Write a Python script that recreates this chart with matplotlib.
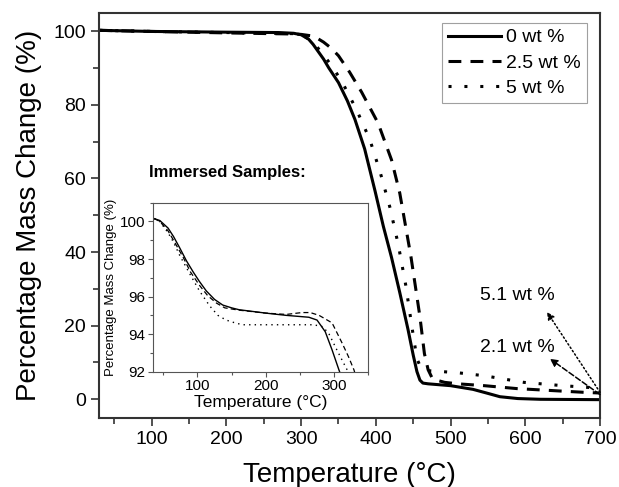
import matplotlib
matplotlib.use("Agg")
import matplotlib.pyplot as plt
from matplotlib.ticker import MultipleLocator

plt.rcParams['font.family'] = ['Liberation Sans', 'DejaVu Sans']

# main TGA curves
t_0 = [30, 100, 200, 270, 290, 300, 310, 316, 323, 330, 337, 350, 362, 372, 385, 399, 410, 421, 432, 443, 450,
       455, 459, 463, 470, 500, 530, 550, 566, 590, 620, 700]
m_0 = [100.2, 99.9, 99.7, 99.6, 99.4, 99.0, 97.8, 96.4, 94.4, 92.4, 90.0, 86.0, 81.0, 76.0, 68.0, 56.5, 47.0,
       38.5, 29.0, 19.0, 12.0, 7.5, 5.2, 4.4, 4.2, 3.7, 2.7, 1.6, 0.7, 0.2, 0.0, -0.1]

t_25 = [30, 100, 200, 290, 300, 314, 322, 330, 340, 350, 365, 381, 403, 421, 432, 447, 459, 465, 470, 476, 492,
        510, 545, 589, 642, 678, 700]
m_25 = [100.2, 99.9, 99.5, 99.2, 99.1, 98.7, 98.0, 97.0, 95.4, 93.3, 88.8, 83.4, 75.0, 65.0, 56.0, 38.7, 22.4,
        12.4, 8.0, 5.5, 4.6, 4.2, 3.7, 2.9, 2.3, 1.9, 1.7]

t_5 = [30, 100, 200, 290, 300, 310, 320, 330, 340, 354, 374, 392, 406, 419, 430, 440, 448, 455, 461, 467, 490,
       510, 545, 598, 650, 700]
m_5 = [100.2, 99.9, 99.6, 99.3, 99.0, 97.9, 96.0, 93.5, 90.8, 86.5, 78.7, 70.5, 61.5, 52.0, 42.0, 31.0, 20.0,
       11.0, 8.2, 7.8, 7.5, 7.2, 6.4, 4.6, 3.7, 3.0]

# inset: immersed samples
ti_0 = [37, 45, 57, 65, 74, 84, 94, 103, 113, 125, 137, 150, 161, 200, 230, 263, 275, 287, 297, 307, 312]
mi_0 = [100.15, 100.05, 99.65, 99.2, 98.6, 97.9, 97.3, 96.8, 96.3, 95.85, 95.55, 95.4, 95.3, 95.12, 95.0,
        94.9, 94.75, 94.13, 93.16, 92.1, 91.6]
ti_25 = [37, 45, 57, 65, 79, 90, 103, 115, 128, 140, 160, 200, 230, 253, 265, 278, 297, 312, 321, 329, 333]
mi_25 = [100.15, 100.0, 99.5, 99.0, 98.1, 97.3, 96.6, 96.05, 95.65, 95.4, 95.28, 95.12, 95.05, 95.15, 95.15,
         95.0, 94.6, 93.5, 92.8, 92.1, 91.6]
ti_5 = [37, 45, 57, 65, 74, 89, 103, 118, 130, 142, 155, 166, 200, 250, 270, 283, 292, 304, 314, 319, 323]
mi_5 = [100.15, 100.0, 99.4, 98.9, 98.2, 97.2, 96.3, 95.5, 95.0, 94.75, 94.6, 94.5, 94.5, 94.5, 94.5, 94.4,
        94.05, 93.16, 92.45, 92.1, 91.6]

labels = ['0 wt %', '2.5 wt %', '5 wt %']

# residue notes: (text, text pos, arrow head, arrow tail, style)
notes = [('5.1 wt %', (590, 28.2), (629, 23.7), (700, 1.9), ':'),
         ('2.1 wt %', (590, 14.2), (633, 11.0), (700, 1.3), '--')]

fig = plt.figure(figsize=(6.19, 4.87), dpi=100)
ax = fig.add_axes([0.1606, 0.1423, 0.8087, 0.8317])

lw = 2.2
ax.plot(t_0, m_0, color='black', lw=lw, label=labels[0])
ax.plot(t_25, m_25, color='black', lw=lw, dashes=(4.2, 3.0), label=labels[1])
ax.plot(t_5, m_5, color='black', lw=lw, dashes=(1.0, 4.2), label=labels[2])

ax.set_xlim(30, 700)
ax.set_ylim(-5, 105)
ax.xaxis.set_major_locator(MultipleLocator(100))
ax.xaxis.set_minor_locator(MultipleLocator(50))
ax.yaxis.set_major_locator(MultipleLocator(20))
ax.yaxis.set_minor_locator(MultipleLocator(10))
ax.tick_params(which='both', direction='out', width=1.2, color='#333333', labelsize=14)
ax.tick_params(which='major', length=6)
ax.tick_params(which='minor', length=4)
for s in ax.spines.values():
    s.set_linewidth(1.5)
    s.set_color('#333333')
ax.set_xlabel('Temperature (°C)', fontsize=20, labelpad=10)
ax.set_ylabel('Percentage Mass Change (%)', fontsize=20, labelpad=8)

leg = ax.legend(loc='upper right', bbox_to_anchor=(587 / 619, 1 - 23 / 487), bbox_transform=fig.transFigure,
                fontsize=14, frameon=True, fancybox=False, handlelength=2.7, handletextpad=0.3,
                labelspacing=0.4, borderpad=0.3, borderaxespad=0)
leg.get_frame().set_edgecolor('#888888')
leg.get_frame().set_linewidth(0.8)

for txt, tpos, head, tail, ls in notes:
    ax.text(tpos[0], tpos[1], txt, fontsize=14, ha='center', va='center')
    ax.annotate('', xy=head, xytext=tail,
                arrowprops=dict(arrowstyle='-|>', color='black', lw=1.1, linestyle=ls,
                                mutation_scale=11, shrinkA=0, shrinkB=0))

# inset
axi = fig.add_axes([153 / 619, 1 - 371.7 / 487, (368.3 - 153) / 619, (371.7 - 202.7) / 487])
axi.plot(ti_0, mi_0, color='black', lw=1.0)
axi.plot(ti_25, mi_25, color='black', lw=0.9, dashes=(4.0, 2.5))
axi.plot(ti_5, mi_5, color='black', lw=1.0, dashes=(1.0, 3.0))
axi.set_xlim(35, 350)
axi.set_ylim(92, 101)
axi.xaxis.set_major_locator(MultipleLocator(100))
axi.xaxis.set_minor_locator(MultipleLocator(50))
axi.yaxis.set_major_locator(MultipleLocator(2))
axi.yaxis.set_minor_locator(MultipleLocator(1))
axi.tick_params(which='both', direction='out', width=0.8, color='#555555', labelsize=11, pad=2)
axi.tick_params(which='major', length=3.5)
axi.tick_params(which='minor', length=2)
for s in axi.spines.values():
    s.set_linewidth(0.8)
    s.set_color('#555555')
axi.set_xlabel('Temperature (°C)', fontsize=12.5, labelpad=1)
axi.set_ylabel('Percentage Mass Change (%)', fontsize=9.5, labelpad=2)
axi.text(-0.02, 1.176, 'Immersed Samples:', transform=axi.transAxes, fontsize=12, fontweight='bold',
         ha='left', va='center')

fig.savefig('out.png', dpi=100)
